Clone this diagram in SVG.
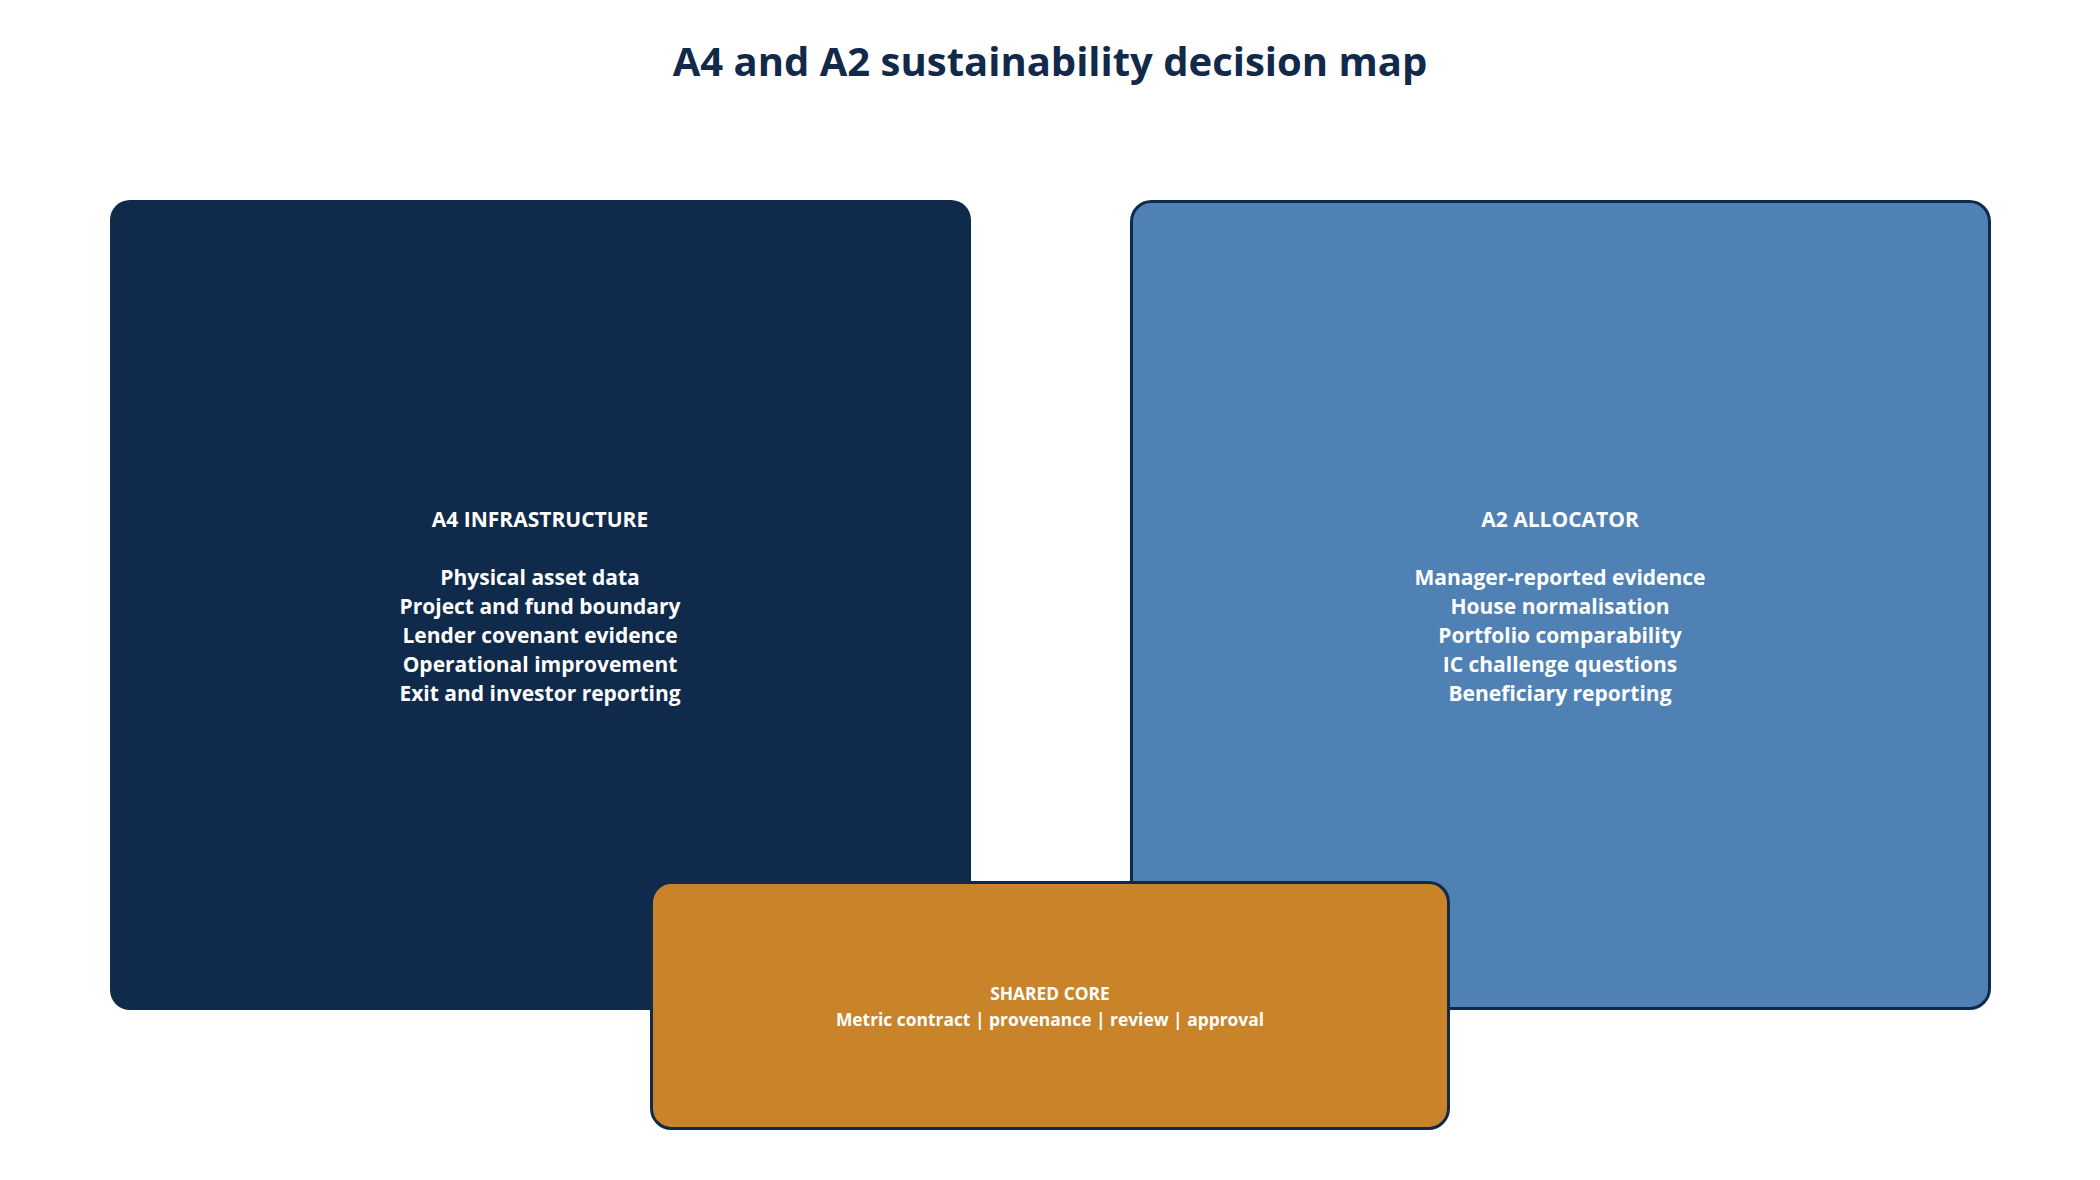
<svg xmlns="http://www.w3.org/2000/svg" width="2100" height="1180" viewBox="0 0 2100 1180">
<style>
.t{font-family:"Open Sans","Noto Sans","Liberation Sans",sans-serif;font-weight:700;text-anchor:middle;fill:#ffffff}
.title{font-family:"Open Sans","Noto Sans","Liberation Sans",sans-serif;font-weight:700;text-anchor:middle;fill:#12294a;font-size:40px}
.b{font-size:21px}
.s{font-size:17.4px}
</style>
<rect width="2100" height="1180" fill="#ffffff"/>
<text class="title" x="1050" y="76">A4 and A2 sustainability decision map</text>
<g id="connectors"></g>
<g id="a4">
<rect x="110" y="200" width="861" height="810" rx="20" fill="#0f2a4a"/>
<text class="t b" x="540" y="527">A4 INFRASTRUCTURE</text>
<text class="t b" x="540" y="585">Physical asset data</text>
<text class="t b" x="540" y="614">Project and fund boundary</text>
<text class="t b" x="540" y="643">Lender covenant evidence</text>
<text class="t b" x="540" y="672">Operational improvement</text>
<text class="t b" x="540" y="701">Exit and investor reporting</text>
</g>
<g id="a2">
<rect x="1131.5" y="201.5" width="858" height="807" rx="20" fill="#4f81b4" stroke="#0f2a4a" stroke-width="3"/>
<text class="t b" x="1560" y="527">A2 ALLOCATOR</text>
<text class="t b" x="1560" y="585">Manager-reported evidence</text>
<text class="t b" x="1560" y="614">House normalisation</text>
<text class="t b" x="1560" y="643">Portfolio comparability</text>
<text class="t b" x="1560" y="672">IC challenge questions</text>
<text class="t b" x="1560" y="701">Beneficiary reporting</text>
</g>
<g id="core">
<rect x="651.5" y="882.5" width="797" height="246" rx="20" fill="#c98429" stroke="#0f2a4a" stroke-width="3"/>
<text class="t s" x="1050" y="1000">SHARED CORE</text>
<text class="t s" x="1050" y="1026">Metric contract | provenance | review | approval</text>
</g>
</svg>
